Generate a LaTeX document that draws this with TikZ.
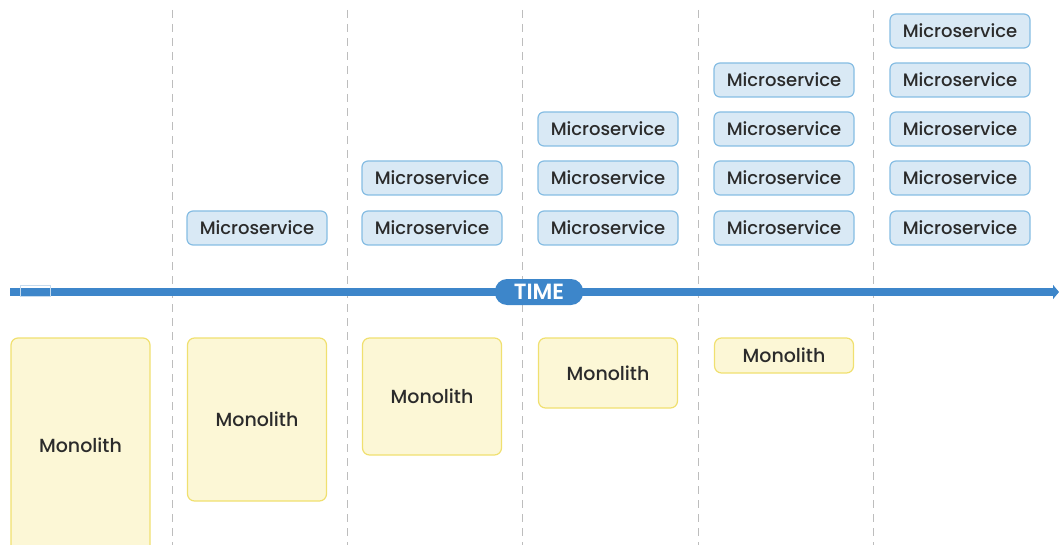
\documentclass[tikz,border=0pt]{standalone}
\usepackage{fontspec}
\setmainfont{Poppins}[UprightFont=* Medium, BoldFont=* SemiBold]
\usetikzlibrary{arrows.meta}
\definecolor{axisblue}{HTML}{3D86CA}
\definecolor{msfill}{HTML}{D9E9F5}
\definecolor{msdraw}{HTML}{86BDE3}
\definecolor{mofill}{HTML}{FCF7D6}
\definecolor{modraw}{HTML}{F0E070}
\definecolor{gridgrey}{HTML}{BDBDBD}
\definecolor{txt}{HTML}{2B2B2B}
\tikzset{
  ms/.style={draw=msdraw, fill=msfill, line width=1.2pt, rounded corners=6pt,
    minimum width=140pt, minimum height=34pt, inner sep=0pt,
    font=\fontsize{18}{20}\selectfont, text=txt},
  mono/.style={draw=modraw, fill=mofill, line width=1.2pt, rounded corners=7pt,
    minimum width=139pt, inner sep=0pt, font=\fontsize{19}{21}\selectfont, text=txt},
  grid/.style={draw=gridgrey, line width=0.9pt, dash pattern=on 8pt off 6pt},
  axis/.style={draw=axisblue, line width=8.5pt, -{Triangle[length=6pt,width=14pt]}},
  pill/.style={fill=axisblue, rounded corners=12pt, minimum width=88pt, minimum height=26pt,
    text=white, font=\fontsize{22}{24}\selectfont\bfseries, inner sep=0pt}
}
\begin{document}
\begin{tikzpicture}[x=1pt,y=-1pt]
\useasboundingbox (0,0) rectangle (1059,545);
% grid lines
\foreach \x [count=\i] in {172,347,522,698,873} {
  \coordinate (gt\i) at (\x,10);
  \coordinate (gb\i) at (\x,545);
  \draw[grid] (gt\i) -- (gb\i);
}
% axis
\coordinate (axs) at (10,292);
\coordinate (axe) at (1059,292);
\draw[axis] (axs) -- (axe);
\node[draw=white!70!axisblue, line width=0.8pt, minimum width=30pt, minimum height=11pt, inner sep=0pt] (tick) at (35,291) {};
\node[pill] (time) at (539,292) {TIME};
% monoliths
\node[mono, minimum height=215pt] (m0) at (80.5,445.5) {Monolith};
\node[mono, minimum height=163pt] (m1) at (257,419.5) {Monolith};
\node[mono, minimum height=117pt] (m2) at (432,396.5) {Monolith};
\node[mono, minimum height=70pt] (m3) at (608,373) {Monolith};
\node[mono, minimum height=35pt] (m4) at (784,355.5) {Monolith};
% microservices
\node[ms] (s11) at (257,228) {Microservice};
\node[ms] (s21) at (432,228) {Microservice};
\node[ms] (s22) at (432,178) {Microservice};
\node[ms] (s31) at (608,228) {Microservice};
\node[ms] (s32) at (608,178) {Microservice};
\node[ms] (s33) at (608,129) {Microservice};
\node[ms] (s41) at (784,228) {Microservice};
\node[ms] (s42) at (784,178) {Microservice};
\node[ms] (s43) at (784,129) {Microservice};
\node[ms] (s44) at (784,80) {Microservice};
\node[ms] (s51) at (960,228) {Microservice};
\node[ms] (s52) at (960,178) {Microservice};
\node[ms] (s53) at (960,129) {Microservice};
\node[ms] (s54) at (960,80) {Microservice};
\node[ms] (s55) at (960,31) {Microservice};
\end{tikzpicture}
\end{document}
